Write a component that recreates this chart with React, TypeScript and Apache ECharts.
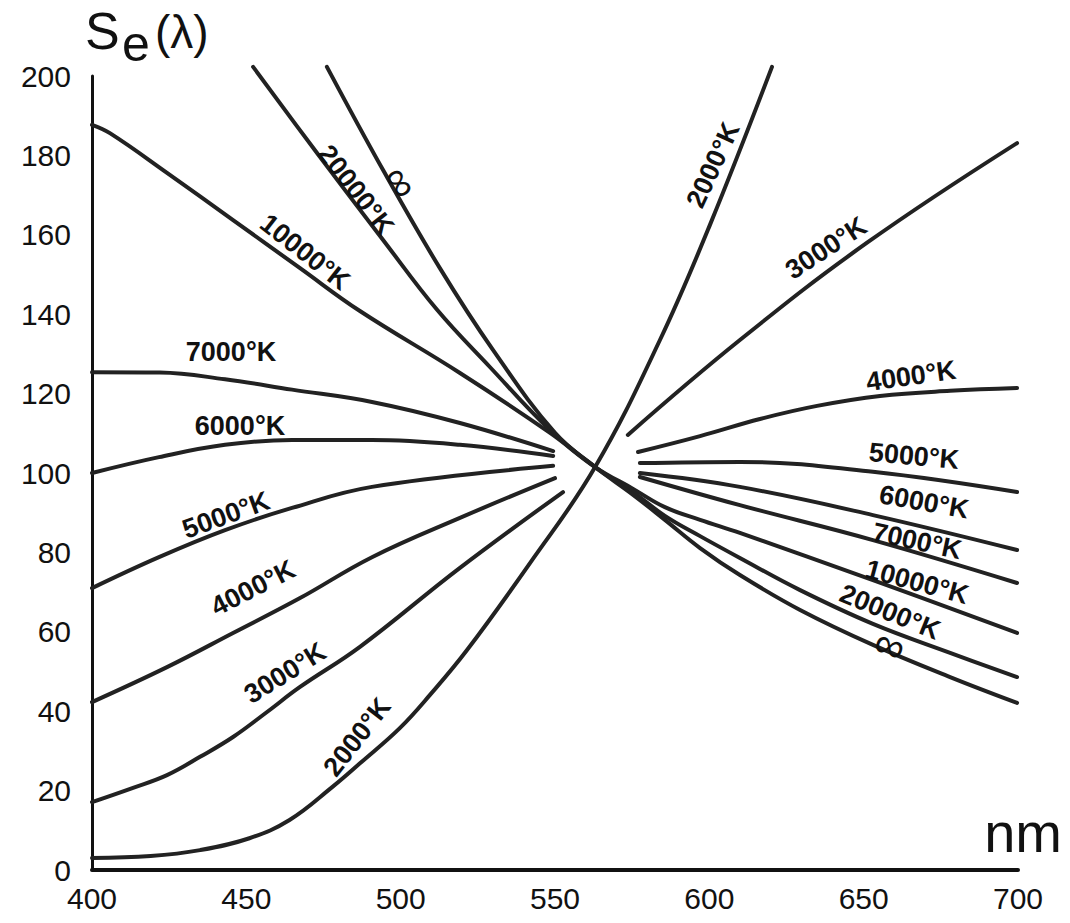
import React, { useEffect, useRef } from "react";
import * as echarts from "echarts";

// ---- axis ticks ----
const xTicks = [400, 450, 500, 550, 600, 650, 700];
const yTicks = [0, 20, 40, 60, 80, 100, 120, 140, 160, 180, 200];

// ---- curves: [wavelength nm, Se(λ)] ----
const k2000 = [
  [400, 3], [419, 3.5], [435, 5], [451, 8], [464, 12.6], [478, 21], [487, 27],
  [499.8, 35.8], [509.5, 44.1], [521.5, 55.4], [541.9, 77.3], [563, 101.5],
  [584, 133.5], [600.2, 162.5], [620.3, 202.3],
];
const k3000Left = [
  [400, 17.1], [413.3, 20.7], [424.3, 23.9], [435, 28.5], [445.7, 33.5], [456.7, 39.8],
  [467.4, 46.1], [486.8, 56.2], [519.2, 76.1], [552.6, 95.2],
];
const k3000Right = [
  [573.6, 109.6], [609.9, 133.5], [651.1, 158], [699.7, 183.1],
];
const k4000Left = [
  [400, 42.3], [424.3, 51.1], [445.7, 59.7], [467.4, 68.5], [490.7, 78.8], [519.2, 88.7], [550, 98.7],
];
const k4000Right = [
  [576.9, 105.3], [597, 109.3], [616.4, 113.6], [634.9, 116.9], [655.3, 119.4], [678, 120.7], [699.7, 121.4],
];
const k5000Left = [
  [400, 71.0], [421.7, 78.8], [443.1, 85.6], [464.8, 91.2], [490.7, 96.5], [549.4, 101.8],
];
const k5000Right = [
  [577.5, 102.5], [609.9, 102.8], [653, 100.3], [699.7, 95.2],
];
const k6000Left = [
  [400, 100], [421.7, 104], [443.1, 107.1], [464.8, 108.3], [490.7, 108.3], [519.2, 107.1], [549.4, 104.3],
];
const k6000Right = [
  [577.5, 100], [609.9, 96.5], [653, 89.4], [699.7, 80.6],
];
const k7000Left = [
  [400, 125.4], [422, 125.3], [443.1, 123.6], [464.8, 121], [490.7, 117.9], [519.2, 112.6], [549.4, 105.5],
];
const k7000Right = [
  [577.5, 99], [609.9, 91.9], [653, 83.1], [699.7, 72.3],
];
const k10000 = [
  [400, 187.7], [405.8, 185.6], [424.3, 175.6], [445.7, 163.7], [467.4, 151.6], [486.8, 140.8],
  [519.2, 125.2], [548.4, 110.1], [563, 101.5], [575.3, 96.0], [585.6, 91.4], [597, 88.2],
  [609.9, 84.9], [653, 73.0], [699.7, 59.7],
];
const k20000 = [
  [452.2, 202.3], [472.9, 180.6], [494.3, 158.7], [511.8, 141.1], [528.9, 126.7], [548.4, 110.8],
  [563, 101.5], [575.3, 95.2], [585.6, 89.2], [597, 84.1], [609.9, 78.6], [629.4, 70.5],
  [653, 62.0], [678, 54.7], [699.7, 48.6],
];
const kInfinity = [
  [476.1, 202.3], [494.3, 176.3], [512.7, 151.6], [529.9, 131.0], [550, 110.1],
  [563, 101.5], [575.3, 94.5], [585.6, 88.2], [597, 81.1], [609.9, 74.3], [629.4, 65.5],
  [653, 56.7], [678, 48.6], [699.7, 42.1],
];

const curves = [
  { name: "2000°K", data: k2000 },
  { name: "3000°K a", data: k3000Left },
  { name: "3000°K b", data: k3000Right },
  { name: "4000°K a", data: k4000Left },
  { name: "4000°K b", data: k4000Right },
  { name: "5000°K a", data: k5000Left },
  { name: "5000°K b", data: k5000Right },
  { name: "6000°K a", data: k6000Left },
  { name: "6000°K b", data: k6000Right },
  { name: "7000°K a", data: k7000Left },
  { name: "7000°K b", data: k7000Right },
  { name: "10000°K", data: k10000 },
  { name: "20000°K", data: k20000 },
  { name: "∞", data: kInfinity },
];

// ---- curve labels (annotation layout) ----
const curveLabels = [
  { text: "20000°K", x: 356, y: 190, rot: -52 },
  { text: "∞", x: 401, y: 182, rot: -56, size: 42, weight: "normal" },
  { text: "10000°K", x: 305, y: 252, rot: -38 },
  { text: "7000°K", x: 231, y: 352, rot: 0 },
  { text: "6000°K", x: 240, y: 426, rot: 0 },
  { text: "5000°K", x: 226, y: 515, rot: 20 },
  { text: "4000°K", x: 253, y: 588, rot: 27 },
  { text: "3000°K", x: 285, y: 673, rot: 32 },
  { text: "2000°K", x: 357, y: 737, rot: 52 },
  { text: "2000°K", x: 713, y: 165, rot: 65 },
  { text: "3000°K", x: 826, y: 248, rot: 33 },
  { text: "4000°K", x: 911, y: 376, rot: 8 },
  { text: "5000°K", x: 914, y: 456, rot: -5 },
  { text: "6000°K", x: 924, y: 502, rot: -10 },
  { text: "7000°K", x: 917, y: 541, rot: -12 },
  { text: "10000°K", x: 917, y: 582, rot: -15 },
  { text: "20000°K", x: 890, y: 612, rot: -22 },
  { text: "∞", x: 890, y: 645, rot: -20, size: 42, weight: "normal" },
];

const FONT = "'Liberation Sans', Arial, Helvetica, sans-serif";
const INK = "#222222";

export default function App() {
  const ref = useRef<HTMLDivElement>(null);

  useEffect(() => {
    if (!ref.current) return;
    const chart = echarts.init(ref.current, null, { renderer: "svg" });

    const graphics: any[] = curveLabels.map((l) => ({
      type: "text",
      x: l.x,
      y: l.y,
      rotation: (l.rot * Math.PI) / 180,
      silent: true,
      z: 10,
      style: {
        text: l.text,
        fill: "#111",
        font: `${l.weight || "bold"} ${l.size || 27}px ${FONT}`,
        textAlign: "center",
        textVerticalAlign: "middle",
      },
    }));

    graphics.push(
      {
        type: "text", x: 85, y: 31, silent: true,
        style: { text: "S", fill: "#111", font: `52px ${FONT}`, textAlign: "left", textVerticalAlign: "middle" },
      },
      {
        type: "text", x: 122, y: 44, silent: true,
        style: { text: "e", fill: "#111", font: `50px ${FONT}`, textAlign: "left", textVerticalAlign: "middle" },
      },
      {
        type: "text", x: 155, y: 32, silent: true,
        style: { text: "(λ)", fill: "#111", font: `46px ${FONT}`, textAlign: "left", textVerticalAlign: "middle" },
      },
      {
        type: "text", x: 1062, y: 832, silent: true,
        style: { text: "nm", fill: "#111", font: `56px ${FONT}`, textAlign: "right", textVerticalAlign: "middle" },
      }
    );

    chart.setOption({
      animation: false,
      backgroundColor: "#ffffff",
      grid: { left: 92, right: 52, top: 76, bottom: 53, containLabel: false },
      xAxis: {
        type: "value",
        min: xTicks[0],
        max: xTicks[xTicks.length - 1],
        interval: 50,
        axisLine: { show: true, onZero: false, lineStyle: { color: "#111", width: 4 } },
        axisTick: { show: false },
        splitLine: { show: false },
        axisLabel: { color: "#111", fontSize: 30, fontFamily: FONT, margin: 13 },
      },
      yAxis: {
        type: "value",
        min: yTicks[0],
        max: yTicks[yTicks.length - 1],
        interval: 20,
        axisLine: { show: true, onZero: false, lineStyle: { color: "#111", width: 3 } },
        axisTick: { show: false },
        splitLine: { show: false },
        axisLabel: { color: "#111", fontSize: 30, fontFamily: FONT, margin: 21 },
      },
      series: curves.map((c) => ({
        type: "line",
        name: c.name,
        data: c.data,
        showSymbol: false,
        smooth: 0.4,
        clip: false,
        silent: true,
        lineStyle: { color: INK, width: 4, cap: "round", join: "round" },
      })),
      graphic: graphics,
    });

    return () => chart.dispose();
  }, []);

  return (
    <div
      ref={ref}
      style={{ position: "fixed", left: 0, top: 0, width: 1070, height: 923, background: "#fff" }}
    />
  );
}
